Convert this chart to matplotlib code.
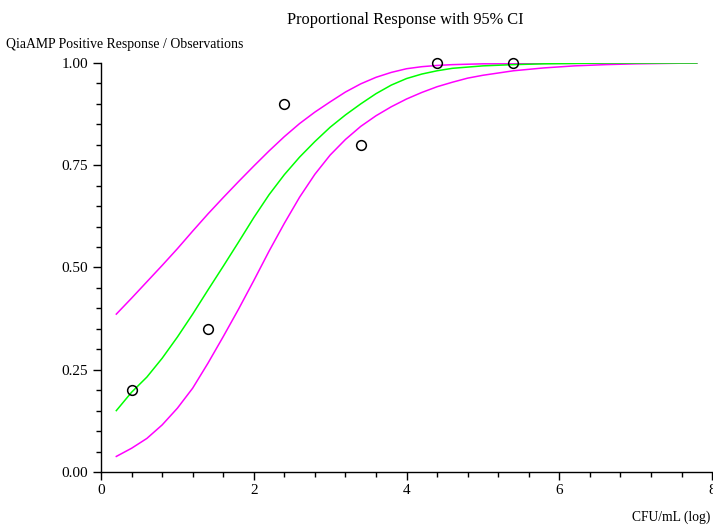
"""Proportional response curve with 95% confidence band."""

import matplotlib

matplotlib.use("Agg")
import matplotlib.pyplot as plt
from matplotlib.ticker import MultipleLocator

# observed proportions
obs_x = [0.4, 1.4, 2.4, 3.4, 4.4, 5.4]
obs_y = [0.20, 0.35, 0.90, 0.80, 1.00, 1.00]

# fitted curve and CI bounds
curve_x = [0.2, 0.4, 0.6, 0.8, 1.0, 1.2, 1.4, 1.6, 1.8, 2.0, 2.2, 2.4, 2.6, 2.8,
           3.0, 3.2, 3.4, 3.6, 3.8, 4.0, 4.2, 4.4, 4.6, 4.8, 5.0, 5.4, 5.8, 6.2,
           6.6, 7.0, 7.4, 7.8]
fit_y = [0.150, 0.195, 0.232, 0.278, 0.330, 0.386, 0.445, 0.503, 0.562, 0.622,
         0.678, 0.727, 0.770, 0.808, 0.843, 0.873, 0.900, 0.925, 0.946, 0.962,
         0.973, 0.981, 0.987, 0.990, 0.993, 0.996, 0.998, 0.999, 1.0, 1.0,
         1.0, 1.0]
upper_y = [0.386, 0.425, 0.465, 0.505, 0.546, 0.589, 0.631, 0.671, 0.710, 0.748,
           0.785, 0.820, 0.852, 0.880, 0.905, 0.929, 0.949, 0.965, 0.977, 0.986,
           0.991, 0.994, 0.996, 0.997, 0.998, 0.998, 0.999, 0.999, 1.0, 1.0,
           1.0, 1.0]
lower_y = [0.038, 0.058, 0.082, 0.115, 0.156, 0.205, 0.266, 0.331, 0.398, 0.468,
           0.540, 0.608, 0.672, 0.728, 0.775, 0.813, 0.845, 0.871, 0.893, 0.912,
           0.928, 0.942, 0.953, 0.963, 0.970, 0.981, 0.988, 0.993, 0.996, 0.998,
           0.999, 1.0]

x_ticks = [0, 2, 4, 6, 8]
y_ticks = [0.0, 0.25, 0.5, 0.75, 1.0]


def main() -> None:
    plt.rcParams["font.family"] = ["Liberation Serif", "DejaVu Serif"]
    figure = plt.figure(figsize=(7.13, 5.25), dpi=100)
    axis = figure.add_axes([0.1417, 0.101, 0.857, 0.779])

    axis.plot(curve_x, upper_y, color="#ff00ff", linewidth=1.1)
    axis.plot(curve_x, lower_y, color="#ff00ff", linewidth=1.1)
    axis.plot(curve_x, fit_y, color="#00ff00", linewidth=1.1)
    axis.plot(obs_x, obs_y, linestyle="none", marker="o", markersize=7,
              markerfacecolor="none", markeredgecolor="black", markeredgewidth=1.1,
              clip_on=False, zorder=5)

    axis.set_xlim(0, 8)
    axis.set_ylim(0, 1)
    axis.set_xticks(x_ticks)
    axis.set_yticks(y_ticks)
    axis.set_yticklabels([f"{v:.2f}" for v in y_ticks])
    axis.xaxis.set_minor_locator(MultipleLocator(0.4))
    axis.yaxis.set_minor_locator(MultipleLocator(0.05))
    axis.tick_params(which="major", length=6, width=1, labelsize=11, direction="out")
    axis.tick_params(which="minor", length=3.5, width=1, direction="out")
    axis.tick_params(axis="x", pad=3)
    for side in ("top", "right"):
        axis.spines[side].set_visible(False)
    for side in ("left", "bottom"):
        axis.spines[side].set_linewidth(1)

    figure.text(0.568, 0.962, "Proportional Response with 95% CI", ha="center",
                va="center", fontsize=11.75)
    figure.text(0.009, 0.916, "QiaAMP Positive Response / Observations", ha="left",
                va="center", fontsize=9.9)
    figure.text(0.996, 0.014, "CFU/mL (log)", ha="right", va="center", fontsize=9.8)

    figure.savefig("out.png", dpi=100)
    plt.close(figure)


if __name__ == "__main__":
    main()
